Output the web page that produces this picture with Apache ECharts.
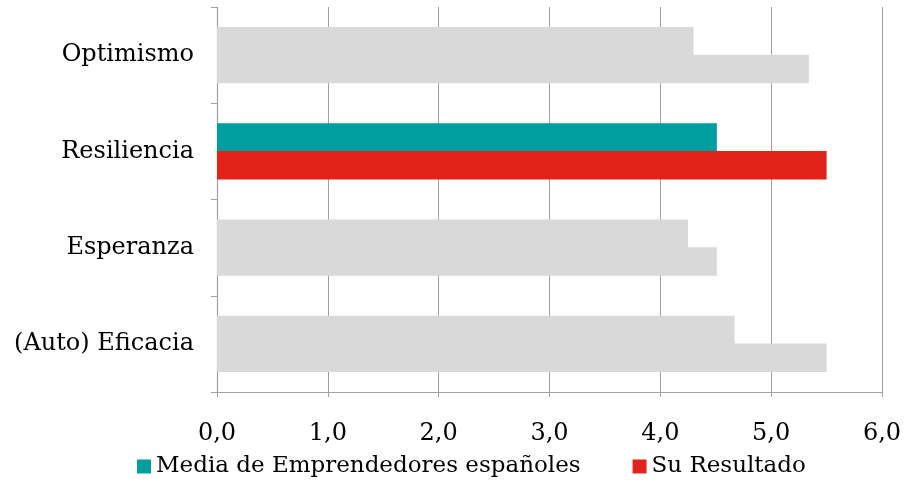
<!DOCTYPE html>
<html>
<head>
<meta charset="utf-8">
<script src="https://cdn.jsdelivr.net/npm/echarts@6/dist/echarts.min.js"></script>
<style>
  html, body { margin: 0; padding: 0; background: #fff; }
  #chart { width: 913px; height: 494px; }
</style>
</head>
<body>
<div id="chart"></div>
<script>
// Categories listed bottom-to-top (category axis grows upward)
const categories = ['(Auto) Eficacia', 'Esperanza', 'Resiliencia', 'Optimismo'];
const mediaValues = [4.67, 4.25, 4.51, 4.30];
const resultadoValues = [5.50, 4.51, 5.50, 5.34];
const highlighted = 'Resiliencia';

const seriesNames = ['Media de Emprendedores españoles', 'Su Resultado'];
const seriesColors = ['#009E9F', '#E2231A'];
const mutedColor = '#D9D9D9';

const font = '"DejaVu Serif", Georgia, serif';

// Only the highlighted category keeps its series colour; others are muted grey
function toItems(values, color) {
  return values.map((v, i) => ({
    value: v,
    itemStyle: { color: categories[i] === highlighted ? color : mutedColor }
  }));
}

const chart = echarts.init(document.getElementById('chart'), null, { renderer: 'canvas' });
chart.setOption({
  animation: false,
  grid: { left: 217, right: 31, top: 7, bottom: 102, containLabel: false },
  legend: {
    bottom: 11,
    left: 132,
    itemWidth: 14,
    itemHeight: 14,
    itemGap: 52,
    icon: 'rect',
    textStyle: { fontFamily: font, fontSize: 23, color: '#000' },
    data: seriesNames.map((n, i) => ({ name: n, itemStyle: { color: seriesColors[i] } }))
  },
  xAxis: {
    type: 'value',
    min: 0, max: 6, interval: 1,
    axisLine: { show: true, lineStyle: { color: '#A0A0A0', width: 1.2 } },
    axisTick: { show: true, length: 5, lineStyle: { color: '#A0A0A0' } },
    splitLine: { show: true, lineStyle: { color: '#A0A0A0', width: 1 } },
    axisLabel: {
      margin: 30,
      fontFamily: font, fontSize: 24, color: '#000',
      formatter: v => v.toFixed(1).replace('.', ',')
    }
  },
  yAxis: {
    type: 'category',
    data: categories,
    axisLine: { show: true, lineStyle: { color: '#A0A0A0', width: 1.2 } },
    axisTick: { show: true, length: 6, lineStyle: { color: '#A0A0A0' } },
    axisLabel: { margin: 23, fontFamily: font, fontSize: 24, color: '#000' }
  },
  series: [
    {
      name: seriesNames[0], type: 'bar',
      barGap: '-3%', barCategoryGap: '41.6%',
      itemStyle: { color: seriesColors[0] },
      data: toItems(mediaValues, seriesColors[0])
    },
    {
      name: seriesNames[1], type: 'bar',
      barGap: '-3%', barCategoryGap: '41.6%',
      itemStyle: { color: seriesColors[1] },
      data: toItems(resultadoValues, seriesColors[1])
    }
  ]
});
</script>
</body>
</html>
